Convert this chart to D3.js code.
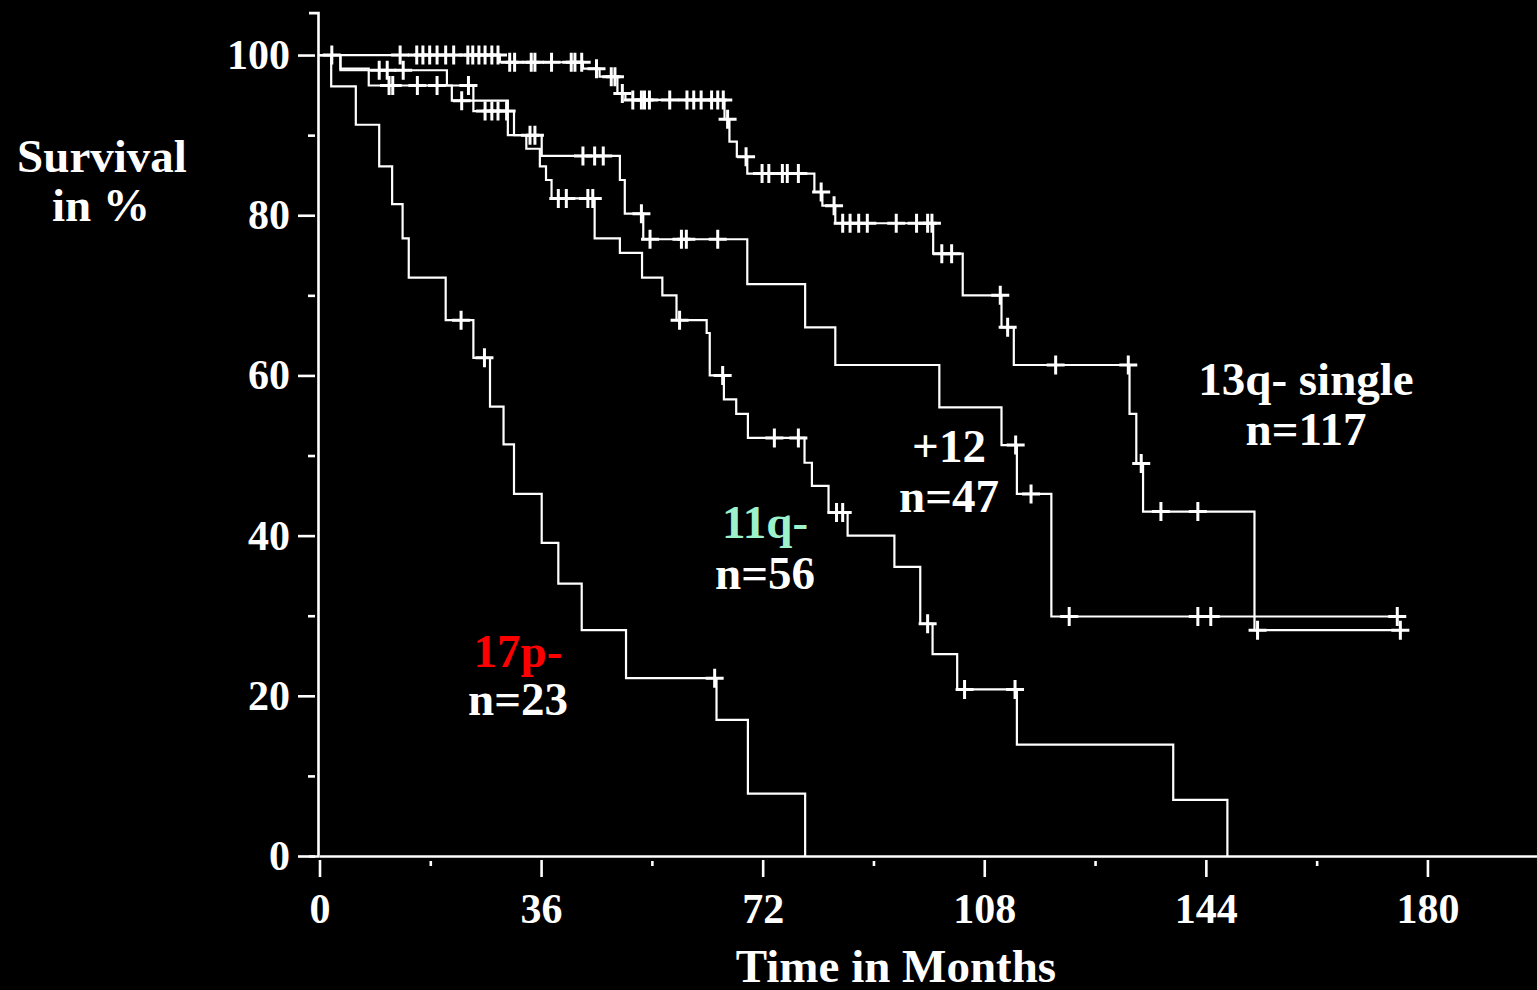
<!DOCTYPE html>
<html>
<head>
<meta charset="utf-8">
<script src="https://cdn.jsdelivr.net/npm/d3@7"></script>
<style>
  html, body { margin: 0; padding: 0; background: #000; }
  svg { display: block; }
  text { font-family: "Liberation Serif", "Times New Roman", serif; font-weight: bold; }
</style>
</head>
<body>
<svg id="chart" width="1537" height="990"></svg>
<script>
// ---- Kaplan-Meier steps (months / survival %) ----
const t17p = [0, 1.9, 5.9, 9.7, 11.8, 13.5, 14.5, 20.5, 25.0, 27.7, 29.9, 31.6, 36.1, 38.8, 42.6, 49.8, 64.5, 69.6, 78.9];
const s17p = [100, 96.1, 91.3, 86.1, 81.4, 77.1, 72.2, 66.9, 62.2, 56.1, 51.4, 45.2, 39.1, 34.0, 28.2, 22.2, 17.0, 7.8, 0];
const c17p = [23.0, 26.8, 64.2];

const t11q = [0, 3.4, 8.0, 25.0, 31.6, 33.6, 35.8, 36.8, 37.7, 44.7, 48.8, 52.4, 55.7, 58.0, 62.9, 63.4, 65.7, 67.7, 69.6, 78.8, 80.0, 82.7, 85.8, 93.4, 97.6, 99.6, 103.6, 113.3, 138.7, 147.5];
const s11q = [100, 98.3, 96.2, 93.0, 90.0, 88.3, 86.1, 84.4, 82.1, 77.1, 75.3, 72.2, 70.0, 66.9, 65.3, 60.0, 57.0, 55.2, 52.2, 49.1, 46.2, 42.9, 40.0, 36.1, 29.0, 25.2, 20.8, 13.9, 7.0, 0];
const c11q = [11.3, 11.9, 15.9, 19.1, 24.2, 26.9, 28.0, 29.0, 30.4, 38.8, 40.1, 43.6, 44.4, 58.5, 65.5, 73.9, 77.8, 84.0, 85.0, 98.8, 104.8, 113.0];

const t12 = [0, 3.4, 20.7, 21.5, 30.6, 36.1, 48.8, 49.6, 52.6, 69.5, 78.9, 83.8, 100.7, 110.8, 113.3, 118.9, 175.7];
const s12 = [100, 98.1, 96.2, 94.3, 90.0, 87.4, 84.4, 80.2, 77.0, 71.4, 66.0, 61.3, 56.0, 51.3, 45.2, 29.9, 29.9];
const c12 = [9.7, 11.0, 13.6, 23.1, 34.2, 35.0, 42.8, 44.7, 46.1, 52.3, 53.7, 58.8, 59.6, 64.7, 113.1, 115.6, 121.8, 142.7, 144.8, 175.1];

const t13q = [0, 29.3, 42.8, 45.5, 48.4, 49.7, 65.8, 66.6, 67.8, 69.5, 80.4, 81.7, 83.8, 99.7, 104.5, 110.8, 112.8, 131.6, 132.7, 133.8, 151.9, 176.0];
const s13q = [100, 99.1, 98.3, 97.3, 95.2, 94.4, 92.0, 89.2, 87.3, 85.2, 82.9, 81.2, 79.0, 75.2, 70.0, 66.0, 61.3, 55.2, 49.0, 43.0, 28.2, 28.2];
const c13q = [2.0, 13.1, 15.8, 16.8, 17.9, 19.1, 20.5, 21.8, 24.1, 24.9, 25.9, 26.9, 28.0, 29.0,
              30.9, 31.7, 34.4, 35.0, 37.7, 40.9, 41.5, 42.6, 45.0, 47.4, 48.0, 49.2,
              50.9, 52.3, 52.8, 53.6, 56.9, 59.7, 60.8, 62.0, 63.7, 64.7, 65.6, 66.3, 69.3,
              71.9, 73.0, 75.2, 76.0, 77.8, 81.5, 83.6, 85.0, 86.2, 87.6, 89.0, 93.7, 97.0, 98.8, 99.5,
              101.1, 102.7, 110.6, 111.8, 119.6, 131.4, 133.5, 136.7, 142.7, 152.4, 175.6];

// ---- labels / ticks ----
const groupNames = ["17p-", "11q-", "+12", "13q- single"];
const groupN = ["n=23", "n=56", "n=47", "n=117"];
const xTicks = [0, 36, 72, 108, 144, 180];
const xMinor = [18, 54, 90, 126, 162];
const yTicks = [0, 20, 40, 60, 80, 100];
const yMinor = [10, 30, 50, 70, 90];

const svg = d3.select('#chart');
svg.append('rect').attr('width', 1537).attr('height', 990).attr('fill', '#000');

// scales run past the last tick so the axis lines reach the frame edge / top cap
const x = d3.scaleLinear().domain([0, 197.8]).range([319.5, 1537]);
const y = d3.scaleLinear().domain([0, 105.3]).range([856, 12.6]);

const font = '"Liberation Serif", "Times New Roman", serif';

// x axis
const xAxis = svg.append('g')
    .attr('transform', `translate(0,${y(0)})`)
    .call(d3.axisBottom(x).tickValues(xTicks).tickSize(21).tickSizeOuter(0).tickPadding(16));
xAxis.select('.domain').attr('stroke', '#fff').attr('stroke-width', 2.6);
xAxis.selectAll('.tick line').attr('stroke', '#fff').attr('stroke-width', 2.6).attr('y1', 4);
xAxis.selectAll('.tick text').attr('fill', '#fff').attr('font-family', font)
    .attr('font-weight', 'bold').attr('font-size', 42);

const xAxisMinor = svg.append('g')
    .attr('transform', `translate(0,${y(0)})`)
    .call(d3.axisBottom(x).tickValues(xMinor).tickSize(10).tickFormat(''));
xAxisMinor.select('.domain').remove();
xAxisMinor.selectAll('.tick line').attr('stroke', '#fff').attr('stroke-width', 2.6).attr('y1', 5);

// y axis (sits a touch left of x = 0, as in the original)
const yAxis = svg.append('g')
    .attr('transform', `translate(${x(0) - 1.5},0)`)
    .call(d3.axisLeft(y).tickValues(yTicks).tickSize(20).tickSizeOuter(9).tickPadding(8));
yAxis.select('.domain').attr('stroke', '#fff').attr('stroke-width', 2.6);
yAxis.selectAll('.tick line').attr('stroke', '#fff').attr('stroke-width', 2.6).attr('x1', -3);
yAxis.selectAll('.tick text').attr('fill', '#fff').attr('font-family', font)
    .attr('font-weight', 'bold').attr('font-size', 42);

const yAxisMinor = svg.append('g')
    .attr('transform', `translate(${x(0) - 1.5},0)`)
    .call(d3.axisLeft(y).tickValues(yMinor).tickSize(10).tickFormat(''));
yAxisMinor.select('.domain').remove();
yAxisMinor.selectAll('.tick line').attr('stroke', '#fff').attr('stroke-width', 2.6).attr('x1', -3);

// axis titles
svg.append('text').attr('x', 102).attr('y', 172).attr('text-anchor', 'middle')
    .attr('font-size', 47).attr('fill', '#fff').text('Survival');
svg.append('text').attr('x', 101).attr('y', 221).attr('text-anchor', 'middle')
    .attr('font-size', 47).attr('fill', '#fff').text('in %');
svg.append('text').attr('x', 896).attr('y', 982).attr('text-anchor', 'middle')
    .attr('font-size', 47).attr('fill', '#fff').text('Time in Months');

// curves
const curves = [
    { t: t17p, s: s17p, c: c17p },
    { t: t11q, s: s11q, c: c11q },
    { t: t12,  s: s12,  c: c12 },
    { t: t13q, s: s13q, c: c13q }
];

const line = d3.line()
    .x(d => x(d[0]))
    .y(d => y(d[1]))
    .curve(d3.curveStepAfter);

function survAt(times, surv, t) {
    let v = surv[0];
    for (let i = 0; i < times.length; i++) if (times[i] <= t) v = surv[i];
    return v;
}

const plot = svg.append('g');
curves.forEach(cv => {
    const pts = cv.t.map((t, i) => [t, cv.s[i]]);
    plot.append('path')
        .attr('d', line(pts))
        .attr('fill', 'none')
        .attr('stroke', '#fff')
        .attr('stroke-width', 2.2);

    // censor marks
    plot.selectAll(null)
        .data(cv.c)
        .enter().append('path')
        .attr('d', t => {
            const cx = x(t), cy = y(survAt(cv.t, cv.s, t));
            return `M${cx - 9},${cy}H${cx + 9}M${cx},${cy - 9.5}V${cy + 9.5}`;
        })
        .attr('stroke', '#fff')
        .attr('stroke-width', 3)
        .attr('fill', 'none');
});

// group labels
const labelPos = [[518, 667, 715], [765, 538, 589], [949, 462, 512], [1306, 395, 445]];
const labelCol = ['#ff0000', '#9ef2cb', '#fff', '#fff'];
groupNames.forEach((name, i) => {
    const [lx, ly1, ly2] = labelPos[i];
    svg.append('text').attr('x', lx).attr('y', ly1).attr('text-anchor', 'middle')
        .attr('font-size', 47).attr('fill', labelCol[i]).text(name);
    svg.append('text').attr('x', lx).attr('y', ly2).attr('text-anchor', 'middle')
        .attr('font-size', 47).attr('fill', '#fff').text(groupN[i]);
});
</script>
</body>
</html>
